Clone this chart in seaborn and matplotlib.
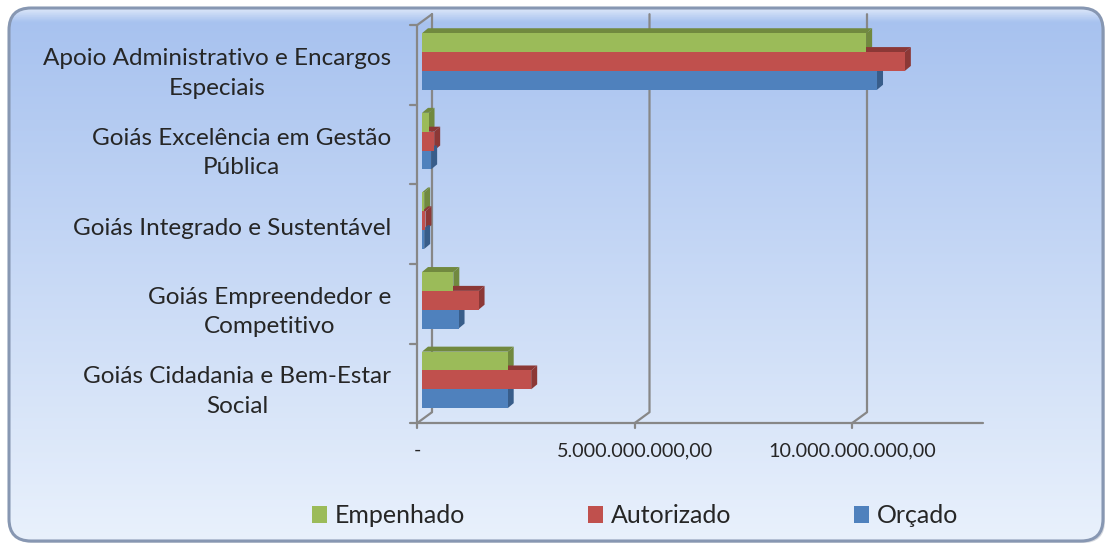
import numpy as np
import pandas as pd
import matplotlib.pyplot as plt
import matplotlib.colors as mcolors
import matplotlib.transforms as mtransforms
from matplotlib.patches import Polygon, FancyBboxPatch, Patch
from matplotlib.lines import Line2D
import seaborn as sns

# dados (R$)
categorias = [
    "Apoio Administrativo e Encargos\nEspeciais",
    "Goiás Excelência em Gestão\nPública",
    "Goiás Integrado e Sustentável",
    "Goiás Empreendedor e\nCompetitivo",
    "Goiás Cidadania e Bem-Estar\nSocial",
]
series = ["Empenhado", "Autorizado", "Orçado"]
empenhado = [10.21e9, 0.15e9, 0.05e9, 0.72e9, 1.97e9]
autorizado = [11.10e9, 0.28e9, 0.08e9, 1.30e9, 2.51e9]
orcado = [10.46e9, 0.21e9, 0.05e9, 0.84e9, 1.97e9]
xticks = [0, 5e9, 10e9]

cores = ["#9bbb59", "#c0504d", "#4f81bd"]
cores_escuras = ["#71893f", "#8c3836", "#385d8a"]
cor_grade = "#878787"

W, H = 1112, 547

sns.set_style("white")
plt.rcParams["font.family"] = ["Lato", "DejaVu Sans"]

df = pd.DataFrame({
    "programa": categorias * 3,
    "serie": np.repeat(series, len(categorias)),
    "valor": empenhado + autorizado + orcado,
})


def fmt_brl(v):
    if v == 0:
        return "-"
    s = f"{v:,.2f}"
    return s.replace(",", "X").replace(".", ",").replace("X", ".")


fig = plt.figure(figsize=(W / 100, H / 100), dpi=100)

# fundo em degradê com cantos arredondados
bg = fig.add_axes([0, 0, 1, 1], zorder=-10)
bg.set_xlim(0, W)
bg.set_ylim(0, H)
bg.axis("off")
sombra = FancyBboxPatch((11, 4), W - 18, H - 15, boxstyle="round,pad=0,rounding_size=22",
                        fc="#b9bfc9", ec="none", alpha=0.6)
bg.add_patch(sombra)
moldura = FancyBboxPatch((9, 6), W - 18, H - 14, boxstyle="round,pad=0,rounding_size=22",
                         fc="none", ec="#8797b2", lw=2.2, zorder=3)
bg.add_patch(moldura)
t = np.linspace(0, 1, 300)[:, None]
c_top = np.array(mcolors.to_rgb("#a6c1ef"))
c_bot = np.array(mcolors.to_rgb("#e9f1fc"))
grad = c_top * (1 - t) + c_bot * t
brilho = np.clip(1 - t / 0.025, 0, 1) * 0.6
grad = grad * (1 - brilho) + brilho
img = bg.imshow(grad[:, None, :].repeat(2, axis=1), extent=[9, W - 9, 6, H - 8],
                origin="upper", aspect="auto", zorder=1)
img.set_clip_path(moldura)

# eixo principal (plano das barras)
ax = fig.add_axes([422 / W, 1 - 419.7 / H, 565.5 / W, 398 / H])
ax.patch.set_alpha(0)
sns.barplot(data=df, y="programa", x="valor", hue="serie", hue_order=series,
            palette=cores, orient="h", width=0.71, saturation=1, ax=ax,
            legend=False, zorder=3, edgecolor="none", linewidth=0)
ax.set_xlim(0, 13e9)
ax.set_ylim(4.5, -0.5)
sns.despine(ax=ax, left=True, bottom=True)
ax.set_xlabel("")
ax.set_ylabel("")
ax.set_xticks(xticks)
ax.set_xticklabels([fmt_brl(v) for v in xticks])
ax.tick_params(axis="x", length=0, pad=16, labelsize=14.2)
ax.tick_params(axis="y", length=0, pad=22, labelsize=17.5)
for lab in ax.get_yticklabels():
    lab.set_multialignment("center")
    lab.set_linespacing(1.5)
    lab.set_transform(lab.get_transform() + mtransforms.ScaledTranslation(0, -5.5 / 100, fig.dpi_scale_trans))
for lab in ax.get_xticklabels():
    lab.set_transform(lab.get_transform() + mtransforms.ScaledTranslation(-5 / 100, 0, fig.dpi_scale_trans))

ident = mtransforms.IdentityTransform()
tdata = ax.transData

# faces de profundidade das barras
dx, dy = 6, 5
for k, cont in enumerate(ax.containers):
    for bar in cont:
        x, y, w, h = bar.get_x(), bar.get_y(), bar.get_width(), bar.get_height()
        (x1, y1), (x2, y2) = tdata.transform([(x, y), (x + w, y + h)])
        xl, xr = min(x1, x2), max(x1, x2)
        yb, yt = min(y1, y2), max(y1, y2)
        topo = Polygon([(xl, yt), (xr, yt), (xr + dx, yt + dy), (xl + dx, yt + dy)],
                       closed=True, transform=ident, fc=cores_escuras[k], ec="none",
                       zorder=2, clip_on=False)
        lado = Polygon([(xr, yb), (xr, yt), (xr + dx, yt + dy), (xr + dx, yb + dy)],
                       closed=True, transform=ident, fc=cores_escuras[k], ec="none",
                       zorder=2, clip_on=False)
        ax.add_patch(topo)
        ax.add_patch(lado)

# paredes, piso e grade em pseudo-3D
(L, B), (R, T) = ax.transAxes.transform([(0, 0), (1, 1)])
fx, fy = -5, -3.5
bx, by = 10, 7.5


def linha(pts, **kw):
    xs, ys = zip(*pts)
    ax.add_line(Line2D(xs, ys, transform=ident, color=cor_grade, lw=1.6,
                       clip_on=False, zorder=1, **kw))


for xv in xticks[1:]:
    xd = tdata.transform((xv, 0))[0]
    linha([(xd + bx, T + by), (xd + bx, B + by), (xd + fx, B + fy)])
linha([(L + fx, B + fy), (R + fx, B + fy)])
linha([(L + fx, T + fy), (L + fx, B + fy)])
linha([(L + bx, T + by), (L + bx, B + by)])
linha([(L + fx, T + fy), (L + bx, T + by)])
linha([(L + fx, B + fy), (L + bx, B + by)])
for yv in np.arange(-0.5, len(categorias), 1.0):
    yd = tdata.transform((0, yv))[1]
    linha([(L + fx - 7, yd + fy), (L + fx, yd + fy)])
for xv in xticks:
    xd = tdata.transform((xv, 0))[0]
    linha([(xd + fx, B + fy), (xd + fx, B + fy - 5)])

# legenda
handles = [Patch(fc=c, ec="none", label=s) for c, s in zip(cores, series)]
fig.legend(handles=handles, loc="center", bbox_to_anchor=(0.571, 0.057), ncol=3,
           frameon=False, fontsize=18, handlelength=0.62, handleheight=0.62,
           handletextpad=0.3, columnspacing=4.9)

fig.savefig("out.png", dpi=100)
